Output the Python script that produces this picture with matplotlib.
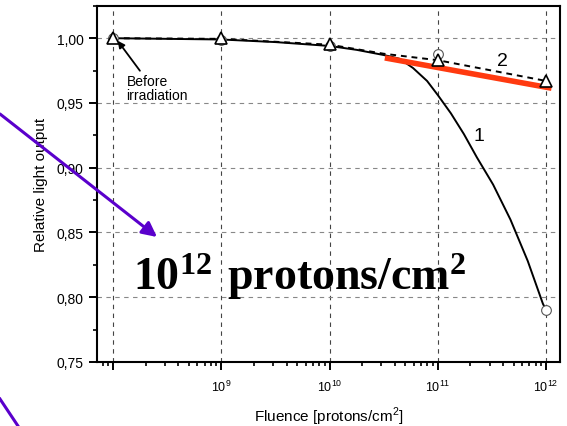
import numpy as np
import matplotlib.pyplot as plt
from matplotlib.ticker import FixedLocator, FixedFormatter, FuncFormatter, MultipleLocator

plt.rcParams['font.family'] = ['Liberation Sans', 'DejaVu Sans']
plt.rcParams['mathtext.fontset'] = 'custom'
plt.rcParams['mathtext.rm'] = 'Liberation Sans'
plt.rcParams['mathtext.bf'] = 'Liberation Serif:bold'

# measured points
fluence = [1e8, 1e9, 1e10, 1e11, 1e12]
tri_y = [1.000, 1.000, 0.9955, 0.983, 0.967]
circ_y = [1.000, 0.999, 0.994, 0.988, 0.790]

# curve 1 (fit through circles) as log10(fluence)
c1_logx = [8.0, 8.5, 9.0, 9.5, 10.0, 10.25, 10.5, 10.58, 10.65, 10.77, 10.90, 11.00, 11.12,
           11.24, 11.36, 11.51, 11.67, 11.83, 11.97, 12.0]
c1_y = [1.000, 0.9995, 0.999, 0.997, 0.994, 0.991, 0.987, 0.9855, 0.984, 0.977, 0.967, 0.956,
        0.942, 0.926, 0.908, 0.887, 0.860, 0.828, 0.795, 0.790]

# curve 2 (through triangles)
c2_logx = [8.0, 9.0, 10.0, 10.5, 11.0, 12.0]
c2_y = [1.000, 0.9995, 0.995, 0.988, 0.983, 0.967]

# red line
red_logx = [10.51, 12.05]
red_y = [0.9848, 0.9614]

fig = plt.figure(figsize=(5.67, 4.27), dpi=100)
ax = fig.add_axes([0.171, 0.150, 0.817, 0.834])

ax.set_xscale('log')
ax.set_xlim(10**7.85, 10**12.13)
ax.set_ylim(0.75, 1.025)

ax.plot(10**np.array(c1_logx), c1_y, '-', color='black', lw=1.4, zorder=3)
ax.plot(10**np.array(c2_logx), c2_y, '--', color='black', lw=1.4, dashes=(3, 2.5), zorder=3)
ax.plot(10**np.array(red_logx), red_y, '-', color='#ff3a10', lw=4, solid_capstyle='butt', zorder=4)
ax.plot(fluence, circ_y, 'o', ms=7, mfc='white', mec='#555555', mew=0.8, ls='none', zorder=5)
ax.plot(fluence, tri_y, '^', ms=9, mfc='white', mec='black', mew=1.2, ls='none', zorder=6)

# axes / ticks
ax.xaxis.set_major_locator(FixedLocator(fluence))
ax.xaxis.set_major_formatter(FixedFormatter(['', r'$10^{9}$', r'$10^{10}$', r'$10^{11}$', r'$10^{12}$']))
ax.yaxis.set_major_locator(MultipleLocator(0.05))
ax.yaxis.set_minor_locator(MultipleLocator(0.025))
ax.yaxis.set_major_formatter(FuncFormatter(lambda v, p: f'{v:.2f}'.replace('.', ',')))
ax.tick_params(which='major', direction='out', length=6, width=1.4, labelsize=10)
ax.tick_params(which='minor', direction='out', length=3, width=1.2)
ax.tick_params(axis='x', pad=6, labelsize=9)
for s in ax.spines.values():
    s.set_linewidth(1.5)

ax.grid(True, axis='x', which='major', ls=(0, (4, 4)), color='#444444', lw=0.8)
ax.grid(True, axis='y', which='major', ls=(0, (4, 4)), color='#888888', lw=0.8)

ax.set_xlabel('Fluence [protons/cm$^{2}$]', fontsize=11, labelpad=8)
ax.set_ylabel('Relative light output', fontsize=11, labelpad=6)

# annotations
ax.annotate('Before\nirradiation', xy=(1.1e8, 0.998), xytext=(1.33e8, 0.953),
            fontsize=10, ha='left', va='baseline', linespacing=1.05,
            arrowprops=dict(arrowstyle='-|>', color='black', lw=1.3, mutation_scale=10,
                            shrinkA=0, shrinkB=0, relpos=(0.25, 1.0)))
ax.text(10**11.38, 0.9245, '1', fontsize=14, ha='center', va='center')
ax.text(10**11.60, 0.9824, '2', fontsize=14, ha='center', va='center')

fig.text(0.235, 0.321, r'$\mathbf{10^{12}\ protons/cm^{2}}$', fontsize=33, va='baseline', ha='left')

# purple arrows drawn over everything
purple = '#5a00cc'
fig.add_artist(plt.Line2D([0, 18 / 567], [1 - 400 / 427, 0], color=purple, lw=2.2, transform=fig.transFigure))
ax.annotate('', xy=(157 / 567, 1 - 238 / 427), xytext=(0, 1 - 115 / 427),
            xycoords='figure fraction', textcoords='figure fraction',
            arrowprops=dict(arrowstyle='-|>', color=purple, lw=2.2, mutation_scale=22,
                            shrinkA=0, shrinkB=0), annotation_clip=False, zorder=10)

fig.savefig('out.png', dpi=100)
